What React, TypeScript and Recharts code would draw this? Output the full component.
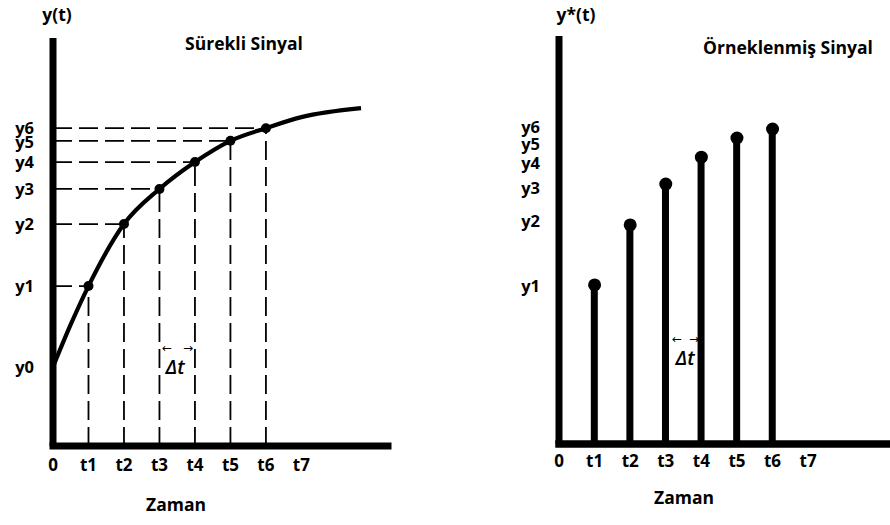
import { ComposedChart, Line, Scatter, Bar, XAxis, YAxis, ReferenceLine } from 'recharts';

// time ticks (sample instants) and their labels
const timeTicks = [0, 1, 2, 3, 4, 5, 6, 7];
const timeLabels = ['0', 't1', 't2', 't3', 't4', 't5', 't6', 't7'];

// signal levels y0..y6 (0 = time axis, 100 = top of the y axis)
const levelTicks = [19.4, 39.2, 54.4, 63.0, 69.6, 74.4, 77.9];
const levelLabels = ['y0', 'y1', 'y2', 'y3', 'y4', 'y5', 'y6'];
// label positions on the sampled-signal axis
const sampledTicks = [38.7, 54.7, 62.7, 68.9, 73.5, 77.7];
const sampledLabels = ['y1', 'y2', 'y3', 'y4', 'y5', 'y6'];

// continuous signal
const curveT = [0, 0.5, 1, 2, 3, 4, 5, 6, 7, 8.68];
const curveY = [19.4, 29.8, 39.2, 54.4, 63.0, 69.6, 74.8, 77.9, 80.6, 82.8];

// sampled signal (right panel stems)
const sampleT = [1, 2, 3, 4, 5, 6];
const sampleY = [39.0, 53.7, 63.7, 70.3, 75.0, 77.2];

const curveData = curveT.map((t, i) => ({ t, y: curveY[i] }));
const curveSamples = sampleT.map((t) => ({ t, y: curveY[curveT.indexOf(t)] }));
const stemData = sampleT.map((t, i) => ({ t, y: sampleY[i] }));

const font = "'Open Sans', 'DejaVu Sans', sans-serif";
const tickStyle = { fill: '#000', fontSize: 17, fontWeight: 700, fontFamily: font };
const levelStyle = { ...tickStyle, fontSize: 16.5 };
const dash = '19 7';

const timeFmt = (v: number) => timeLabels[timeTicks.indexOf(v)] ?? '';
const levelFmt = (v: number) => levelLabels[levelTicks.indexOf(v)] ?? '';
const sampledFmt = (v: number) => sampledLabels[sampledTicks.indexOf(v)] ?? '';

const txt = (x: number, y: number, s: string, extra: any = {}) => (
  <div
    style={{
      position: 'absolute',
      left: x,
      top: y,
      transform: 'translate(-50%, -50%)',
      whiteSpace: 'nowrap',
      lineHeight: 1,
      fontSize: 17.5,
      fontWeight: 700,
      fontFamily: font,
      color: '#000',
      ...extra,
    }}
  >
    {s}
  </div>
);

const deltaStyle = { fontSize: 20, fontStyle: 'italic', fontWeight: 600 };
const arrowStyle = { fontSize: 12, fontWeight: 400, fontFamily: "'DejaVu Sans', sans-serif" };

export default function App() {
  return (
    <div style={{ position: 'fixed', left: 0, top: 0, width: 890, height: 525, background: '#fff', overflow: 'hidden' }}>
      <div style={{ position: 'absolute', left: 0, top: 0 }}>
        <ComposedChart width={445} height={525} data={curveData} margin={{ top: 38, right: 57, left: 0, bottom: 0 }}>
          <XAxis
            type="number"
            dataKey="t"
            domain={[0, 9.44]}
            ticks={timeTicks}
            interval={0}
            tickFormatter={timeFmt}
            tick={tickStyle}
            tickLine={false}
            tickSize={0}
            tickMargin={13}
            height={79}
            axisLine={{ stroke: '#000', strokeWidth: 7, strokeLinecap: 'square' }}
          />
          <YAxis
            type="number"
            domain={[0, 100]}
            ticks={levelTicks}
            interval={0}
            tickFormatter={levelFmt}
            tick={levelStyle}
            tickLine={false}
            tickSize={0}
            tickMargin={19}
            width={53}
            axisLine={{ stroke: '#000', strokeWidth: 7 }}
          />
          {curveSamples.map((p) => (
            <ReferenceLine
              key={'h' + p.t}
              segment={[{ x: 0, y: p.y }, { x: p.t, y: p.y }]}
              stroke="#000"
              strokeWidth={1.8}
              strokeDasharray={dash}
            />
          ))}
          {curveSamples.map((p) => (
            <ReferenceLine
              key={'v' + p.t}
              segment={[{ x: p.t, y: 0 }, { x: p.t, y: p.y }]}
              stroke="#000"
              strokeWidth={1.8}
              strokeDasharray={dash}
            />
          ))}
          <Line type="monotone" dataKey="y" stroke="#000" strokeWidth={4.2} dot={false} isAnimationActive={false} />
          <Scatter
            data={curveSamples}
            dataKey="y"
            isAnimationActive={false}
            shape={(p: any) => <circle cx={p.cx} cy={p.cy} r={5} fill="#000" />}
          />
        </ComposedChart>
      </div>

      <div style={{ position: 'absolute', left: 445, top: 0 }}>
        <ComposedChart width={445} height={525} data={stemData} margin={{ top: 36, right: 0, left: 0, bottom: 0 }}>
          <XAxis
            type="number"
            dataKey="t"
            domain={[0, 9.3]}
            ticks={timeTicks}
            interval={0}
            tickFormatter={timeFmt}
            tick={tickStyle}
            tickLine={false}
            tickSize={0}
            tickMargin={11}
            height={81}
            axisLine={{ stroke: '#000', strokeWidth: 7.5, strokeLinecap: 'square' }}
          />
          <YAxis
            type="number"
            domain={[0, 100]}
            ticks={sampledTicks}
            interval={0}
            tickFormatter={sampledFmt}
            tick={levelStyle}
            tickLine={false}
            tickSize={0}
            tickMargin={19}
            width={114}
            axisLine={{ stroke: '#000', strokeWidth: 7 }}
          />
          <Bar dataKey="y" fill="#000" barSize={7} isAnimationActive={false} />
          <Scatter
            dataKey="y"
            isAnimationActive={false}
            shape={(p: any) => <circle cx={p.cx} cy={p.cy} r={6.5} fill="#000" />}
          />
        </ComposedChart>
      </div>

      {txt(57, 15, 'y(t)')}
      {txt(244, 44, 'Sürekli Sinyal')}
      {txt(176, 505, 'Zaman')}
      {txt(167, 348, '\u2190', arrowStyle)}
      {txt(188, 348, '\u2192', arrowStyle)}
      {txt(175, 367, '\u0394t', deltaStyle)}

      {txt(576, 15, 'y*(t)')}
      {txt(788, 48, 'Örneklenmiş Sinyal')}
      {txt(684, 498, 'Zaman')}
      {txt(677, 339, '\u2190', arrowStyle)}
      {txt(694, 339, '\u2192', arrowStyle)}
      {txt(685, 358, '\u0394t', deltaStyle)}
    </div>
  );
}
